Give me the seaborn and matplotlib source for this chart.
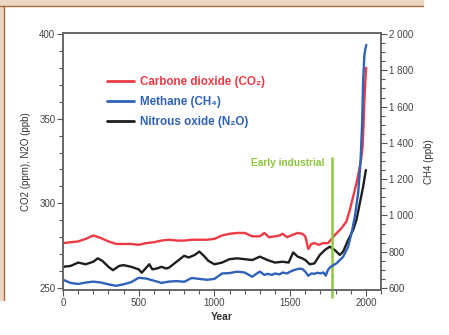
import pandas as pd
import matplotlib.pyplot as plt
import matplotlib.ticker as mticker
from matplotlib.lines import Line2D
from matplotlib.patches import Rectangle
import seaborn as sns

# values
co2_years = [0, 50, 100, 150, 200, 250, 300, 350, 400, 450, 500, 550, 600, 650, 700,
             750, 800, 850, 900, 950, 1000, 1050, 1100, 1150, 1200, 1250, 1300, 1330,
             1360, 1400, 1430, 1450, 1480, 1520, 1550, 1580, 1600, 1620, 1640, 1660,
             1690, 1720, 1750, 1765, 1795, 1838, 1871, 1894, 1916, 1938, 1960, 1970,
             1978, 1984, 1990, 1997, 2002]
co2_ppm = [276.5, 277, 277.5, 279, 281, 279.5, 277.5, 276, 276, 276, 275.5, 276.5, 277,
           278, 278.5, 278, 278, 278.5, 278.5, 278.5, 279, 281, 282, 282.5, 282.5, 280.5,
           280.5, 282.5, 280, 280.5, 281, 282, 280, 281.5, 282.5, 282, 280.5, 273, 276,
           276.5, 275.5, 276.5, 276.5, 278, 281.3, 285.2, 289.2, 296, 304, 311.8, 321.6,
           327, 333, 345, 360, 373, 380]

ch4_years = [0, 50, 100, 150, 200, 250, 300, 350, 400, 450, 500, 550, 600, 650, 700,
             750, 800, 850, 900, 950, 1000, 1050, 1100, 1150, 1200, 1250, 1280, 1300,
             1330, 1350, 1380, 1400, 1430, 1450, 1480, 1500, 1530, 1560, 1580, 1600,
             1620, 1640, 1660, 1680, 1700, 1720, 1735, 1750, 1765, 1806, 1850, 1883,
             1905, 1927, 1949, 1965, 1975, 1982, 1990, 1997, 2003]
ch4_ppb = [645, 628, 622, 630, 635, 630, 620, 612, 620, 632, 656, 652, 640, 628, 635,
           638, 634, 655, 650, 645, 650, 680, 682, 690, 685, 662, 680, 690, 672, 678,
           672, 680, 675, 685, 680, 690, 700, 706, 705, 690, 667, 680, 678, 684, 680,
           686, 668, 700, 715, 736, 772, 828, 901, 993, 1122, 1300, 1500, 1740, 1880,
           1920, 1940]

n2o_years = [0, 50, 100, 150, 200, 230, 260, 300, 330, 370, 400, 450, 500, 520, 550,
             570, 590, 620, 650, 680, 700, 750, 800, 830, 870, 900, 930, 960, 1000,
             1050, 1100, 1150, 1200, 1250, 1300, 1350, 1400, 1450, 1490, 1520, 1550,
             1580, 1600, 1630, 1660, 1696, 1729, 1762, 1795, 1828, 1850, 1883, 1916,
             1938, 1960, 1982, 2000]
n2o_ppb = [262.5, 263, 265, 264, 265.5, 267.5, 266, 262.5, 260.5, 263, 263.5, 262.5,
           261, 259, 262, 264, 261, 261.5, 262.5, 261.5, 262, 265.5, 269, 268, 269.5,
           271.5, 269, 266, 264, 265, 267, 267.5, 267, 266.5, 268.5, 266.5, 265, 265.5,
           265, 271, 268.5, 267.5, 266.5, 264, 264.5, 269.5, 272.4, 274.4, 272.4,
           269.5, 271.5, 278.3, 284.3, 290.2, 300, 309.8, 319.7]

industrial_year = 1775
series_labels = ['Carbone dioxide (CO\u2082)', 'Methane (CH\u2084)', 'Nitrous oxide (N\u2082O)']

red = '#ee3a45'
blue = '#2f62b8'
black = '#1e1e1e'
green = '#8dc63f'

co2 = pd.DataFrame({'Year': co2_years, 'value': co2_ppm})
ch4 = pd.DataFrame({'Year': ch4_years, 'value': ch4_ppb})
n2o = pd.DataFrame({'Year': n2o_years, 'value': n2o_ppb})

sns.set_style('ticks')
plt.rcParams['font.family'] = ['Liberation Sans', 'DejaVu Sans']

fig = plt.figure(figsize=(4.49, 3.35), dpi=100)
ax = fig.add_axes([63 / 449, 45 / 335, 318 / 449, 257 / 335])
ax2 = ax.twinx()

sns.lineplot(data=co2, x='Year', y='value', ax=ax, color=red, lw=1.7)
sns.lineplot(data=n2o, x='Year', y='value', ax=ax, color=black, lw=1.7)
sns.lineplot(data=ch4, x='Year', y='value', ax=ax2, color=blue, lw=1.7)

ax.set(xlim=(0, 2100), ylim=(248.8, 400.6))
ax2.set(ylim=(588.8, 2005.6))

ax.xaxis.set_major_locator(mticker.MultipleLocator(500))
ax.xaxis.set_minor_locator(mticker.MultipleLocator(100))
ax.yaxis.set_major_locator(mticker.MultipleLocator(50))
ax.yaxis.set_minor_locator(mticker.MultipleLocator(10))
ax2.yaxis.set_major_locator(mticker.MultipleLocator(200))
ax2.yaxis.set_minor_locator(mticker.MultipleLocator(50))
ax2.yaxis.set_major_formatter(mticker.FuncFormatter(
    lambda v, p: f'{int(v):,}'.replace(',', ' ')))

for a in (ax, ax2):
    a.tick_params(which='both', direction='out', colors='#555', labelcolor='#444',
                  labelsize=7, width=0.8, pad=1.5)
    a.tick_params(which='major', length=4)
    a.tick_params(which='minor', length=3)
    for s in a.spines.values():
        s.set_color('#666')
        s.set_linewidth(1.2)

ax.set_xlabel('Year', fontsize=7.5, fontweight='bold', color='#333', labelpad=3)
ax.set_ylabel('CO2 (ppm), N2O (ppb)', fontsize=7, color='#333', labelpad=6)
ax2.set_ylabel('CH4 (ppb)', fontsize=7, color='#333', labelpad=8)

# early industrial marker
ax.vlines(industrial_year, 244, 327.5, color=green, lw=1.8, clip_on=False, zorder=5)
ax.text(1729, 323.8, 'Early industrial', color=green, fontsize=7.3, fontweight='bold',
        ha='right', va='center')

handles = [Line2D([], [], color=c, lw=2) for c in (red, blue, black)]
leg = ax.legend(handles, series_labels, loc='upper left', bbox_to_anchor=(0.105, 0.875),
                frameon=False, handlelength=2.3, handletextpad=0.55, labelspacing=0.7,
                prop={'family': ['Liberation Sans', 'DejaVu Sans'],
                      'weight': 'bold', 'size': 8.4})
for t, c in zip(leg.get_texts(), (red, blue, blue)):
    t.set_color(c)

# page decoration around the figure
fig.patches.append(Rectangle((0, 1 - 5 / 335), 423 / 449, 5 / 335, transform=fig.transFigure,
                             color='#ebd7c2', zorder=0))
fig.patches.append(Rectangle((0, 35 / 335), 3 / 449, 295 / 335, transform=fig.transFigure,
                             color='#ebd7c2', zorder=0))
fig.lines.append(Line2D([0, 423 / 449], [1 - 5.5 / 335] * 2, transform=fig.transFigure,
                        color='#a8693a', lw=1))
fig.lines.append(Line2D([3.5 / 449] * 2, [35 / 335, 1 - 5.5 / 335], transform=fig.transFigure,
                        color='#a8693a', lw=1))

fig.savefig('out.png', dpi=100)
